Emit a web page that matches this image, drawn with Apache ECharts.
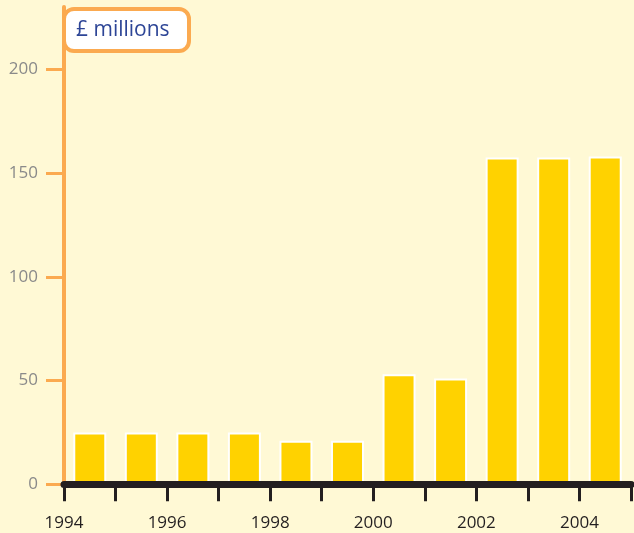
<!DOCTYPE html>
<html>
<head>
<meta charset="utf-8">
<script src="https://cdn.jsdelivr.net/npm/echarts@6/dist/echarts.min.js"></script>
<style>
html,body{margin:0;padding:0;background:#FFF9D5;}
#chart{width:634px;height:533px;}
</style>
</head>
<body>
<div id="chart"></div>
<script>
// Data
const years = [1994, 1995, 1996, 1997, 1998, 1999, 2000, 2001, 2002, 2003, 2004];
const values = [25, 25, 25, 25, 21, 21, 53, 51, 157.5, 157.5, 158];
const yTickValues = [0, 50, 100, 150, 200];
const yUnitLabel = '£ millions';

const barData = years.map((y, i) => [y + 0.5, values[i]]);

const chart = echarts.init(document.getElementById('chart'), null, {renderer: 'canvas'});
const FONT = '"Open Sans", sans-serif';
const ORANGE = '#FBAA50';

chart.setOption({
  backgroundColor: '#FFF9D5',
  animation: false,
  title: {
    text: yUnitLabel,
    left: 64,
    top: 9,
    padding: [11, 20, 10, 12],
    backgroundColor: '#FFFFFF',
    borderColor: ORANGE,
    borderWidth: 4,
    borderRadius: 10,
    textStyle: {
      color: '#2D4596',
      fontFamily: FONT,
      fontSize: 21,
      fontWeight: 'normal',
      lineHeight: 21
    },
    z: 10
  },
  grid: {
    left: 64,
    right: 0,
    top: 7,
    bottom: 48.7,
    containLabel: false
  },
  xAxis: {
    type: 'value',
    min: 1994,
    max: 2005,
    interval: 1,
    offset: 2,
    z: 5,
    axisLine: {show: true, lineStyle: {color: '#231F20', width: 7}},
    axisTick: {show: true, length: 17, lineStyle: {color: '#231F20', width: 3}},
    axisLabel: {
      margin: 28,
      color: '#231F20',
      fontFamily: FONT,
      fontSize: 17,
      formatter: v => (v % 2 === 0 && v < 2005) ? String(v) : ''
    },
    splitLine: {show: false}
  },
  yAxis: {
    type: 'value',
    min: 0,
    max: 230,
    z: 4,
    axisLine: {show: true, lineStyle: {color: ORANGE, width: 4}},
    axisTick: {show: true, length: 18, customValues: yTickValues, lineStyle: {color: ORANGE, width: 3}},
    axisLabel: {
      customValues: yTickValues,
      margin: 26,
      color: '#8A8A8A',
      fontFamily: FONT,
      fontSize: 17,
      verticalAlign: 'middle',
      padding: [0, 0, 13, 0]
    },
    splitLine: {show: false}
  },
  series: [{
    type: 'bar',
    data: barData,
    barWidth: 33,
    z: 2,
    itemStyle: {
      color: '#FFD200',
      borderColor: '#FFFFFF',
      borderWidth: 2
    }
  }]
});
</script>
</body>
</html>
